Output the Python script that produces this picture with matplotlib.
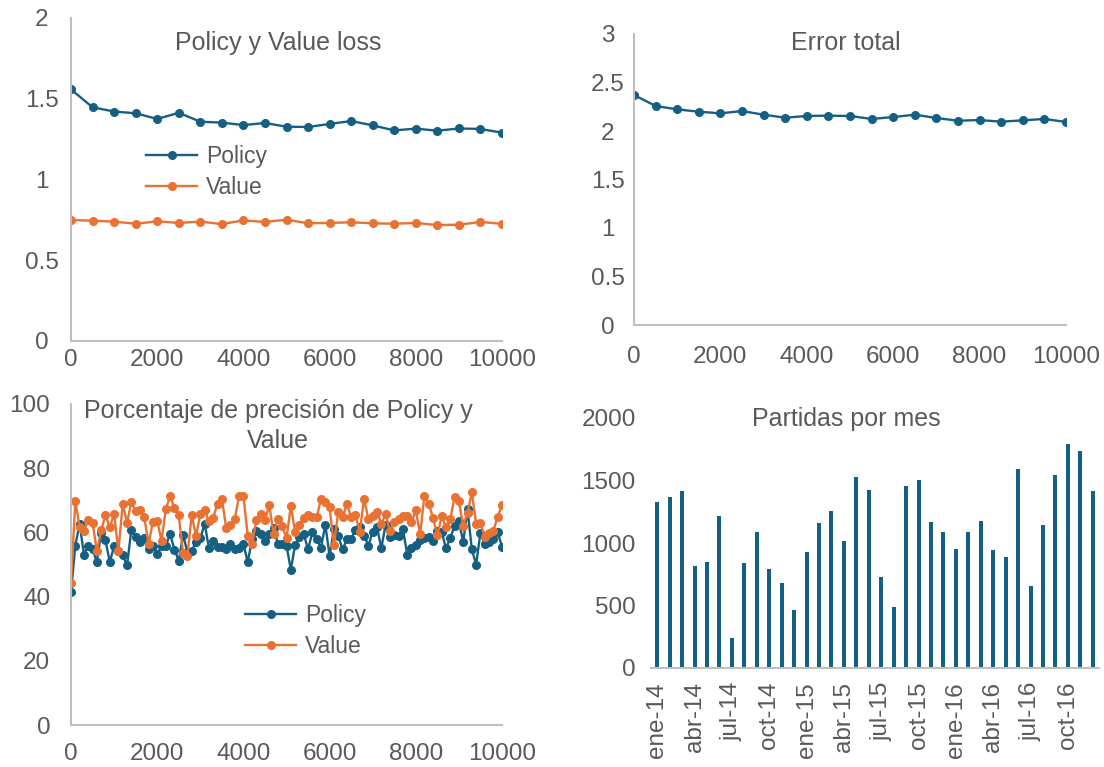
import matplotlib.pyplot as plt

plt.rcParams['font.family'] = ['Liberation Sans', 'DejaVu Sans']

# loss cada 500 pasos
pasos = list(range(0, 10001, 500))
loss_policy = [1.558, 1.447, 1.421, 1.41, 1.375, 1.413, 1.358, 1.352, 1.337, 1.35, 1.327,
               1.325, 1.344, 1.362, 1.335, 1.304, 1.315, 1.302, 1.316, 1.313, 1.29]
loss_value = [0.749, 0.745, 0.739, 0.726, 0.741, 0.731, 0.739, 0.724, 0.747, 0.737, 0.751,
              0.729, 0.731, 0.735, 0.729, 0.726, 0.731, 0.718, 0.72, 0.737, 0.726]
error_total = [2.371, 2.258, 2.223, 2.199, 2.182, 2.206, 2.168, 2.137, 2.155, 2.158, 2.155,
               2.124, 2.144, 2.168, 2.134, 2.106, 2.113, 2.096, 2.11, 2.124, 2.093]

# precision cada 100 pasos
pasos_prec = list(range(0, 10001, 100))
prec_policy = [41.5, 55.9, 62.7, 53.1, 55.9, 54.7, 50.8, 59.9, 57.5, 50.8,
               55.7, 54.2, 52.9, 49.7, 60.8, 58.7, 57.1, 58.2, 54.7, 55.8,
               53.3, 55.7, 55.9, 59.6, 54.6, 51.2, 59.2, 53.9, 54.2, 57.1,
               58.1, 62.7, 55.2, 57.3, 55.5, 55.5, 54.7, 56.3, 54.7, 55.2,
               56.5, 50.7, 57.8, 60.4, 59.6, 57.3, 59.4, 61.5, 56.5, 56.3,
               55.9, 48.4, 56.0, 58.7, 59.5, 54.7, 60.0, 57.9, 55.2, 62.4,
               52.7, 61.0, 58.9, 54.7, 57.8, 58.0, 60.8, 61.6, 59.0, 55.9,
               60.2, 61.6, 55.1, 62.4, 58.6, 59.1, 59.0, 61.2, 53.1, 55.0,
               56.1, 57.7, 58.1, 58.7, 57.3, 60.5, 60.1, 55.1, 58.2, 62.1,
               63.4, 57.0, 67.2, 54.7, 50.0, 59.9, 56.3, 57.0, 58.0, 60.1,
               55.5]
prec_value = [44.2, 69.7, 61.8, 60.5, 63.9, 63.0, 54.2, 60.6, 65.3, 61.6,
              65.8, 54.2, 68.9, 63.0, 69.4, 66.6, 67.1, 64.7, 56.4, 63.3,
              63.7, 57.4, 67.3, 71.3, 67.5, 65.3, 53.6, 52.7, 65.3, 59.0,
              65.6, 67.0, 63.5, 64.6, 68.9, 70.5, 61.5, 62.2, 64.2, 71.4,
              71.4, 59.0, 56.4, 63.8, 65.8, 63.8, 68.5, 59.5, 64.3, 62.0,
              58.1, 68.3, 60.2, 62.4, 64.6, 65.4, 64.7, 64.7, 70.3, 69.5,
              67.8, 56.0, 66.3, 64.7, 68.8, 64.8, 65.3, 60.2, 70.5, 64.1,
              65.0, 66.4, 62.6, 65.8, 60.3, 63.1, 64.1, 65.0, 65.2, 63.1,
              66.9, 59.4, 71.4, 68.9, 64.6, 59.1, 65.0, 61.6, 64.2, 71.0,
              69.8, 62.0, 66.1, 72.5, 62.7, 62.8, 58.6, 59.7, 60.5, 64.9,
              68.5]

# partidas por mes
meses = [m + '-' + a for a in ['14', '15', '16']
         for m in ['ene', 'feb', 'mar', 'abr', 'may', 'jun',
                   'jul', 'ago', 'sep', 'oct', 'nov', 'dic']]
partidas = [1328, 1368, 1418, 817, 849, 1218, 237, 841, 1088, 795, 681, 468,
            929, 1157, 1256, 1013, 1532, 1426, 732, 490, 1455, 1506, 1165, 1085,
            955, 1088, 1173, 947, 891, 1594, 660, 1147, 1545, 1793, 1735, 1416]

AZUL = '#156082'
NARANJA = '#E97132'
GRIS = '#595959'
EJE = '#BFBFBF'
W, H = 1104, 767


def caja(x0, y0, x1, y1):
    # pixeles -> fraccion de figura
    return [x0 / W, 1 - y1 / H, (x1 - x0) / W, (y1 - y0) / H]


def estilo(ax, padx, pady, izq=True, centro=False):
    for s in ['top', 'right']:
        ax.spines[s].set_visible(False)
    ax.spines['left'].set_visible(izq)
    ax.spines['left'].set_color(EJE)
    ax.spines['bottom'].set_color(EJE)
    ax.spines['left'].set_linewidth(1.5)
    ax.spines['bottom'].set_linewidth(1.5)
    ax.tick_params(axis='x', length=0, pad=padx, labelsize=17.5, labelcolor=GRIS)
    ax.tick_params(axis='y', length=0, pad=pady, labelsize=17.5, labelcolor=GRIS)
    if centro:
        for t in ax.get_yticklabels():
            t.set_ha('center')


def titulo(texto, x, y, **kw):
    fig.text(x / W, 1 - y / H, texto, ha='center', va='center',
             fontsize=18, color=GRIS, **kw)


fig = plt.figure(figsize=(11.04, 7.67), dpi=100)
estilo_linea = dict(marker='o', markersize=5.5, linewidth=1.7)

# arriba izquierda
ax1 = fig.add_axes(caja(71, 18, 502, 341))
ax1.plot(pasos, loss_policy, color=AZUL, label='Policy', **estilo_linea)
ax1.plot(pasos, loss_value, color=NARANJA, label='Value', **estilo_linea)
ax1.set_xlim(0, 10000)
ax1.set_ylim(0, 2)
ax1.set_xticks(range(0, 10001, 2000))
ax1.set_yticks([0, 0.5, 1, 1.5, 2])
ax1.set_yticklabels(['0', '0.5', '1', '1.5', '2'])
estilo(ax1, 6, 21, centro=True)
ax1.legend(loc='center left', bbox_to_anchor=(135 / W, 1 - 172 / H),
           bbox_transform=fig.transFigure, frameon=False, fontsize=16.5,
           labelcolor=GRIS, handlelength=2.2, handletextpad=0.4,
           labelspacing=0.32, borderpad=0)
titulo('Policy y Value loss', 278, 43)

# arriba derecha
ax2 = fig.add_axes(caja(634, 34, 1066, 325))
ax2.plot(pasos, error_total, color=AZUL, **estilo_linea)
ax2.set_xlim(0, 10000)
ax2.set_ylim(0, 3)
ax2.set_xticks(range(0, 10001, 2000))
ax2.set_yticks([0, 0.5, 1, 1.5, 2, 2.5, 3])
ax2.set_yticklabels(['0', '0.5', '1', '1.5', '2', '2.5', '3'])
estilo(ax2, 15, 19, centro=True)
titulo('Error total', 846, 43)

# abajo izquierda
ax3 = fig.add_axes(caja(71, 404, 502, 725))
ax3.plot(pasos_prec, prec_policy, color=AZUL, label='Policy', **estilo_linea)
ax3.plot(pasos_prec, prec_value, color=NARANJA, label='Value', **estilo_linea)
ax3.set_xlim(0, 10000)
ax3.set_ylim(0, 100)
ax3.set_xticks(range(0, 10001, 2000))
ax3.set_yticks(range(0, 101, 20))
estilo(ax3, 13, 15)
ax3.legend(loc='center left', bbox_to_anchor=(234 / W, 1 - 631 / H),
           bbox_transform=fig.transFigure, frameon=False, fontsize=16.5,
           labelcolor=GRIS, handlelength=2.2, handletextpad=0.4,
           labelspacing=0.32, borderpad=0)
titulo('Porcentaje de precisión de Policy y\nValue', 278, 426, linespacing=1.35)

# abajo derecha
ax4 = fig.add_axes(caja(651, 418, 1099, 668))
ax4.bar(range(len(partidas)), partidas, width=0.33, color=AZUL)
ax4.set_xlim(-0.5, len(partidas) - 0.5)
ax4.set_ylim(0, 2000)
ax4.set_yticks(range(0, 2001, 500))
ax4.set_xticks(range(0, len(meses), 3))
ax4.set_xticklabels(meses[::3], rotation=90)
estilo(ax4, 10, 11, izq=False)
titulo('Partidas por mes', 846, 419)

fig.savefig('out.png', dpi=100)
